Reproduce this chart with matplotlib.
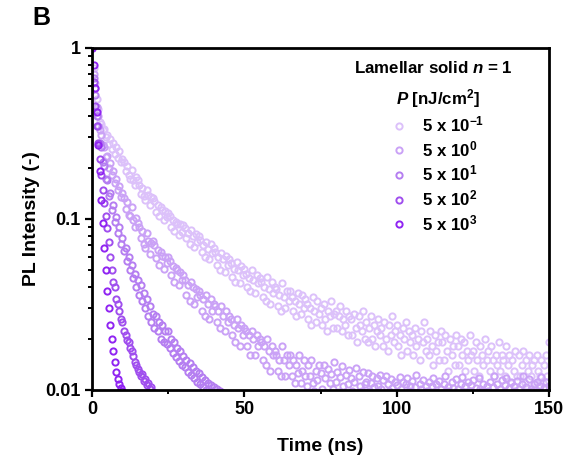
import numpy as np
import matplotlib.pyplot as plt
from matplotlib.lines import Line2D

plt.rcParams['font.family'] = ['Liberation Sans', 'DejaVu Sans']
plt.rcParams['font.weight'] = 'bold'
plt.rcParams['mathtext.fontset'] = 'custom'
plt.rcParams['mathtext.rm'] = 'Liberation Sans:bold'
plt.rcParams['mathtext.it'] = 'Liberation Sans:italic:bold'
plt.rcParams['mathtext.bf'] = 'Liberation Sans:bold'

# time bin of the decay traces (ns)
time_step = 0.5

fluence_labels = ['5 x 10$^{-1}$', '5 x 10$^{0}$', '5 x 10$^{1}$', '5 x 10$^{2}$', '5 x 10$^{3}$']
colors = ['#dcc1fa', '#caa2f6', '#b57ef1', '#a04fee', '#9024f2']

# PL decays, normalised, one value per time bin starting at t = 0
pl_5e_1 = [
    1.0, 0.76, 0.62, 0.5, 0.44, 0.37, 0.36, 0.33, 0.335, 0.3,
    0.31, 0.275, 0.295, 0.255, 0.28, 0.24, 0.265, 0.228, 0.25, 0.215,
    0.225, 0.215, 0.19, 0.205, 0.18, 0.172, 0.193, 0.17, 0.158, 0.176,
    0.168, 0.158, 0.14, 0.152, 0.136, 0.13, 0.148, 0.138, 0.121, 0.134,
    0.132, 0.127, 0.11, 0.121, 0.104, 0.118, 0.113, 0.098, 0.112, 0.103,
    0.108, 0.104, 0.09, 0.098, 0.085, 0.096, 0.093, 0.081, 0.094, 0.084,
    0.092, 0.089, 0.077, 0.083, 0.071, 0.086, 0.079, 0.069, 0.082, 0.073,
    0.079, 0.075, 0.064, 0.07, 0.06, 0.073, 0.067, 0.058, 0.071, 0.063,
    0.068, 0.064, 0.054, 0.06, 0.05, 0.063, 0.058, 0.049, 0.061, 0.054,
    0.058, 0.055, 0.046, 0.051, 0.043, 0.056, 0.05, 0.042, 0.053, 0.047,
    0.051, 0.048, 0.04, 0.045, 0.038, 0.05, 0.044, 0.037, 0.047, 0.042,
    0.045, 0.043, 0.035, 0.04, 0.033, 0.046, 0.039, 0.032, 0.043, 0.037,
    0.04, 0.039, 0.031, 0.036, 0.029, 0.042, 0.035, 0.03, 0.038, 0.033,
    0.038, 0.035, 0.029, 0.033, 0.027, 0.037, 0.032, 0.028, 0.036, 0.03,
    0.034, 0.032, 0.026, 0.03, 0.024, 0.035, 0.029, 0.025, 0.033, 0.028,
    0.03, 0.024, 0.032, 0.026, 0.022, 0.029, 0.027, 0.033, 0.023, 0.028,
    0.029, 0.023, 0.027, 0.031, 0.022, 0.026, 0.024, 0.029, 0.021, 0.027,
    0.026, 0.021, 0.028, 0.023, 0.019, 0.027, 0.024, 0.022, 0.029, 0.02,
    0.025, 0.019, 0.023, 0.027, 0.02, 0.024, 0.018, 0.022, 0.026, 0.021,
    0.023, 0.018, 0.025, 0.02, 0.017, 0.024, 0.021, 0.027, 0.019, 0.022,
    0.024, 0.018, 0.021, 0.016, 0.023, 0.02, 0.025, 0.017, 0.022, 0.019,
    0.021, 0.016, 0.023, 0.018, 0.02, 0.015, 0.022, 0.019, 0.025, 0.017,
    0.02, 0.016, 0.022, 0.018, 0.014, 0.021, 0.017, 0.019, 0.015, 0.022,
    0.019, 0.015, 0.021, 0.017, 0.013, 0.02, 0.016, 0.018, 0.014, 0.021,
    0.018, 0.014, 0.02, 0.016, 0.019, 0.013, 0.017, 0.015, 0.021, 0.016,
    0.017, 0.013, 0.019, 0.015, 0.012, 0.018, 0.016, 0.014, 0.02, 0.015,
    0.017, 0.013, 0.018, 0.015, 0.012, 0.016, 0.014, 0.019, 0.013, 0.016,
    0.015, 0.012, 0.018, 0.014, 0.016, 0.011, 0.015, 0.013, 0.017, 0.012,
    0.016, 0.012, 0.014, 0.017, 0.011, 0.015, 0.013, 0.016, 0.012, 0.014,
    0.015, 0.011, 0.016, 0.013, 0.012, 0.015, 0.011, 0.014, 0.016, 0.012,
    0.019,
]
pl_5e0 = [
    1.0, 0.7, 0.58, 0.45, 0.4, 0.33, 0.31, 0.27, 0.265, 0.23,
    0.235, 0.2, 0.212, 0.18, 0.19, 0.163, 0.172, 0.148, 0.155, 0.135,
    0.142, 0.133, 0.115, 0.126, 0.106, 0.104, 0.118, 0.099, 0.09, 0.102,
    0.095, 0.09, 0.077, 0.085, 0.071, 0.068, 0.083, 0.074, 0.062, 0.072,
    0.074, 0.07, 0.059, 0.066, 0.054, 0.064, 0.061, 0.051, 0.06, 0.055,
    0.06, 0.057, 0.047, 0.053, 0.043, 0.052, 0.05, 0.041, 0.049, 0.044,
    0.047, 0.044, 0.036, 0.041, 0.033, 0.043, 0.04, 0.032, 0.039, 0.035,
    0.038, 0.036, 0.029, 0.034, 0.027, 0.036, 0.032, 0.026, 0.034, 0.029,
    0.032, 0.031, 0.025, 0.029, 0.023, 0.031, 0.027, 0.022, 0.029, 0.025,
    0.027, 0.026, 0.021, 0.024, 0.019, 0.026, 0.023, 0.018, 0.024, 0.021,
    0.023, 0.022, 0.018, 0.021, 0.016, 0.022, 0.02, 0.016, 0.021, 0.018,
    0.02, 0.019, 0.015, 0.018, 0.014, 0.02, 0.017, 0.013, 0.018, 0.016,
    0.017, 0.016, 0.013, 0.015, 0.012, 0.018, 0.015, 0.012, 0.016, 0.014,
    0.016, 0.012, 0.015, 0.011, 0.014, 0.0125, 0.016, 0.011, 0.013, 0.015,
    0.012, 0.0105, 0.014, 0.012, 0.015, 0.011, 0.0098, 0.013, 0.0115, 0.014,
    0.0125, 0.0102, 0.014, 0.0118, 0.0096, 0.0132, 0.011, 0.0124, 0.0101, 0.0145,
    0.0112, 0.0128, 0.0097, 0.0119, 0.0138, 0.0105, 0.0092, 0.0123, 0.0108, 0.0131,
    0.0118, 0.0099, 0.0112, 0.0135, 0.0094, 0.0121, 0.0106, 0.0098, 0.0127, 0.0109,
    0.0112, 0.0125, 0.0098, 0.011, 0.012, 0.0104, 0.0092, 0.0118, 0.0106, 0.0122,
    0.0102, 0.0114, 0.0096, 0.0121, 0.0108, 0.0099, 0.0116, 0.0103, 0.0094, 0.0112,
    0.0107, 0.0096, 0.0119, 0.0101, 0.0112, 0.0093, 0.0108, 0.0117, 0.0099, 0.0105,
    0.0113, 0.0097, 0.0104, 0.0122, 0.0095, 0.0109, 0.0101, 0.0115, 0.0092, 0.0106,
    0.0099, 0.0111, 0.0094, 0.0105, 0.0118, 0.0097, 0.0108, 0.0093, 0.0113, 0.0102,
    0.0096, 0.0109, 0.0121, 0.0098, 0.0104, 0.0091, 0.0112, 0.0103, 0.0095, 0.0116,
    0.0101, 0.0094, 0.0108, 0.0119, 0.0097, 0.0105, 0.0092, 0.0111, 0.0099, 0.0107,
    0.0114, 0.0096, 0.0103, 0.0093, 0.0117, 0.0102, 0.0098, 0.0109, 0.0091, 0.0106,
    0.0099, 0.0112, 0.0095, 0.0104, 0.0121, 0.0097, 0.0108, 0.0093, 0.0101, 0.0115,
    0.0096, 0.0107, 0.0118, 0.0094, 0.0103, 0.0111, 0.0092, 0.0105, 0.0099, 0.0113,
    0.0102, 0.0095, 0.0109, 0.0121, 0.0097, 0.0104, 0.0093, 0.0116, 0.0101, 0.0098,
    0.0108, 0.0094, 0.0112, 0.0099, 0.0106, 0.0119, 0.0095, 0.0103, 0.0111, 0.0097,
    0.0105,
]
pl_5e1 = [
    1.0, 0.67, 0.53, 0.4, 0.35, 0.28, 0.265, 0.215, 0.205, 0.172,
    0.168, 0.136, 0.142, 0.113, 0.121, 0.096, 0.103, 0.083, 0.09, 0.071,
    0.077, 0.065, 0.068, 0.057, 0.06, 0.05, 0.054, 0.045, 0.048, 0.04,
    0.044, 0.036, 0.041, 0.033, 0.037, 0.03, 0.034, 0.027, 0.031, 0.025,
    0.028, 0.023, 0.027, 0.022, 0.025, 0.02, 0.024, 0.019, 0.022, 0.0185,
    0.022, 0.0175, 0.02, 0.0165, 0.019, 0.0155, 0.0175, 0.0148, 0.0168, 0.014,
    0.0158, 0.0136, 0.015, 0.0128, 0.0143, 0.0122, 0.0136, 0.0117, 0.013, 0.0112,
    0.0126, 0.0108, 0.0119, 0.0104, 0.0115, 0.01, 0.011, 0.0097, 0.0107, 0.0095,
    0.0104, 0.0094, 0.0102, 0.0091, 0.0099, 0.0089, 0.0096, 0.0087, 0.0093, 0.0086,
    0.009,
]
pl_5e2 = [
    1.0, 0.63, 0.46, 0.35, 0.28, 0.225, 0.18, 0.148, 0.124, 0.104,
    0.088, 0.073, 0.06, 0.05, 0.043, 0.04, 0.034, 0.032, 0.029, 0.026,
    0.025, 0.022, 0.021, 0.0195, 0.019, 0.0175, 0.017, 0.0158, 0.0146, 0.014,
    0.0132, 0.0128, 0.0121, 0.0124, 0.0113, 0.0116, 0.0107, 0.011, 0.0101, 0.0104,
    0.0097,
]
pl_5e3 = [
    1.0, 0.8, 0.58, 0.42, 0.27, 0.19, 0.13, 0.095, 0.068, 0.05,
    0.038, 0.03, 0.024, 0.02, 0.017, 0.0145, 0.0128, 0.0116, 0.0108, 0.0103,
    0.0098,
]
series = [pl_5e_1, pl_5e0, pl_5e1, pl_5e2, pl_5e3]

fig = plt.figure(figsize=(5.73, 4.65), dpi=100)
ax = fig.add_axes([0.1606, 0.1613, 0.7975, 0.7355])

for vals, color in zip(series, colors):
    t = np.arange(len(vals)) * time_step
    ax.plot(t, vals, linestyle='none', marker='o', markersize=4.5,
            markerfacecolor='none', markeredgecolor=color, markeredgewidth=1.4)

ax.set_yscale('log')
ax.set_xlim(0, 150)
ax.set_ylim(0.01, 1)
ax.set_xticks([0, 50, 100, 150])
ax.set_xticks([25, 75, 125], minor=True)
ax.set_yticks([0.01, 0.1, 1])
ax.set_yticklabels(['0.01', '0.1', '1'])
ax.tick_params(which='major', direction='out', length=5, width=1.6, labelsize=13, pad=3)
ax.tick_params(which='minor', direction='out', length=3, width=1.4)
for s in ax.spines.values():
    s.set_linewidth(2)

ax.set_xlabel('Time (ns)', fontsize=14, fontweight='bold', labelpad=14)
ax.set_ylabel('PL Intensity (-)', fontsize=14, fontweight='bold', labelpad=4)

fig.text(41 / 573, 1 - 18 / 465, 'B', fontsize=18, fontweight='bold', ha='center', va='center')
fig.text(433 / 573, 1 - 68 / 465, 'Lamellar solid $n$ = 1', fontsize=12.2,
         fontweight='bold', ha='center', va='center')

handles = [Line2D([], [], linestyle='none', marker='o', markersize=4.5,
                  markerfacecolor='none', markeredgecolor=c, markeredgewidth=1.4)
           for c in colors]
leg = ax.legend(handles, fluence_labels, title='$P$ [nJ/cm$^2$]', frameon=False,
                loc='upper left', bbox_to_anchor=(392 / 573, 1 - 87 / 465),
                bbox_transform=fig.transFigure, prop={'size': 12.2, 'weight': 'bold'},
                title_fontproperties={'size': 12.2, 'weight': 'bold'},
                handlelength=0.8, handletextpad=1.0, labelspacing=0.28,
                borderpad=0, borderaxespad=0)

fig.savefig('out.png', dpi=100)
